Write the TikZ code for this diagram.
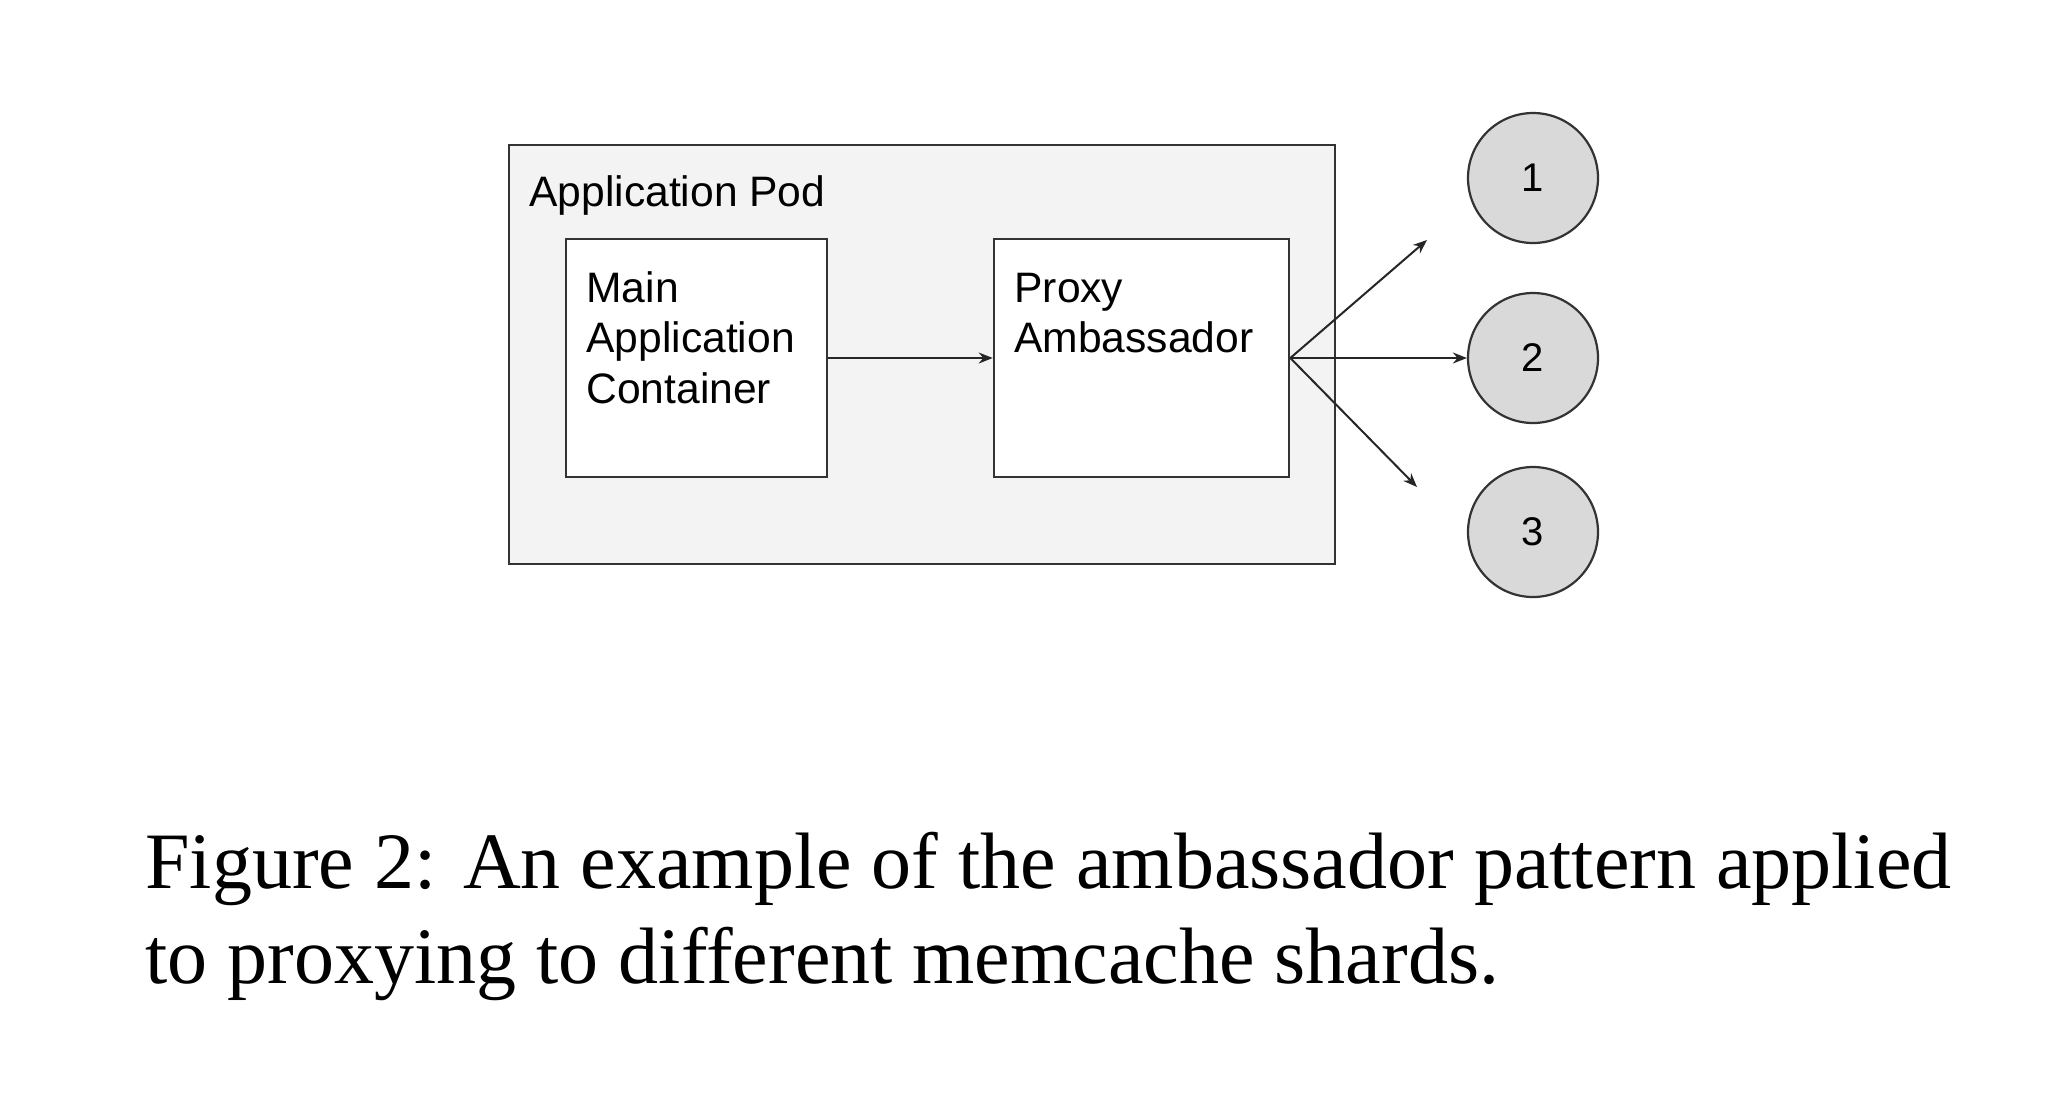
\documentclass[tikz,border=0pt]{standalone}
\usepackage{fontspec}
\setmainfont{Liberation Serif}
\newfontfamily\arialf{Liberation Sans}
\usetikzlibrary{arrows.meta}
\definecolor{edgegray}{HTML}{333333}
\definecolor{podfill}{HTML}{F3F3F3}
\definecolor{shardfill}{HTML}{D9D9D9}
\tikzset{
  podbox/.style={draw=edgegray, fill=podfill, line width=1.3pt, inner sep=0pt, rectangle},
  innerbox/.style={draw=edgegray, fill=white, line width=1.3pt, inner sep=0pt, rectangle, minimum height=119pt},
  shard/.style={circle, draw=edgegray, fill=shardfill, line width=1.1pt, minimum size=65pt, inner sep=0pt, font=\arialf\fontsize{20}{22}\selectfont},
  lbl/.style={anchor=base west, inner sep=0pt, font=\arialf\fontsize{21.3}{24}\selectfont},
  captxt/.style={anchor=base west, inner sep=0pt, font=\fontsize{40}{48}\selectfont},
  conn/.style={draw=black!85, line width=1pt, -{Stealth[length=7pt,width=5.5pt]}}
}
\begin{document}
\begin{tikzpicture}[x=0.5pt,y=-0.5pt]
\useasboundingbox (0,0) rectangle (2072,1094);
% pod
\node[podbox, minimum width=413pt, minimum height=209.5pt] (pod) at (922,354.5) {};
\node[lbl] (podlbl) at (529,206) {Application Pod};
% main container
\node[innerbox, minimum width=130.5pt] (main) at (696.5,358) {};
\node[lbl] (m1) at (586,302) {Main};
\node[lbl] (m2) at (586,352) {Application};
\node[lbl] (m3) at (586,403) {Container};
% proxy
\node[innerbox, minimum width=147.5pt] (proxy) at (1141.5,358) {};
\node[lbl] (p1) at (1014,302) {Proxy};
\node[lbl] (p2) at (1014,352) {Ambassador};
% shards
\node[shard] (s1) at (1533,178) {1};
\node[shard] (s2) at (1533,358) {2};
\node[shard] (s3) at (1533,532) {3};
\coordinate (t1) at (1427,240);
\coordinate (t3) at (1417,487);
% connectors
\draw[conn] (main.east) -- (proxy.west);
\draw[conn] (proxy.east) -- (t1);
\draw[conn] (proxy.east) -- (s2.west);
\draw[conn] (proxy.east) -- (t3);
% caption
\node[captxt] (c1) at (145,888) {Figure 2: An example of the ambassador pattern applied};
\node[captxt] (c2) at (145,983) {to proxying to different memcache shards.};
\end{tikzpicture}
\end{document}
